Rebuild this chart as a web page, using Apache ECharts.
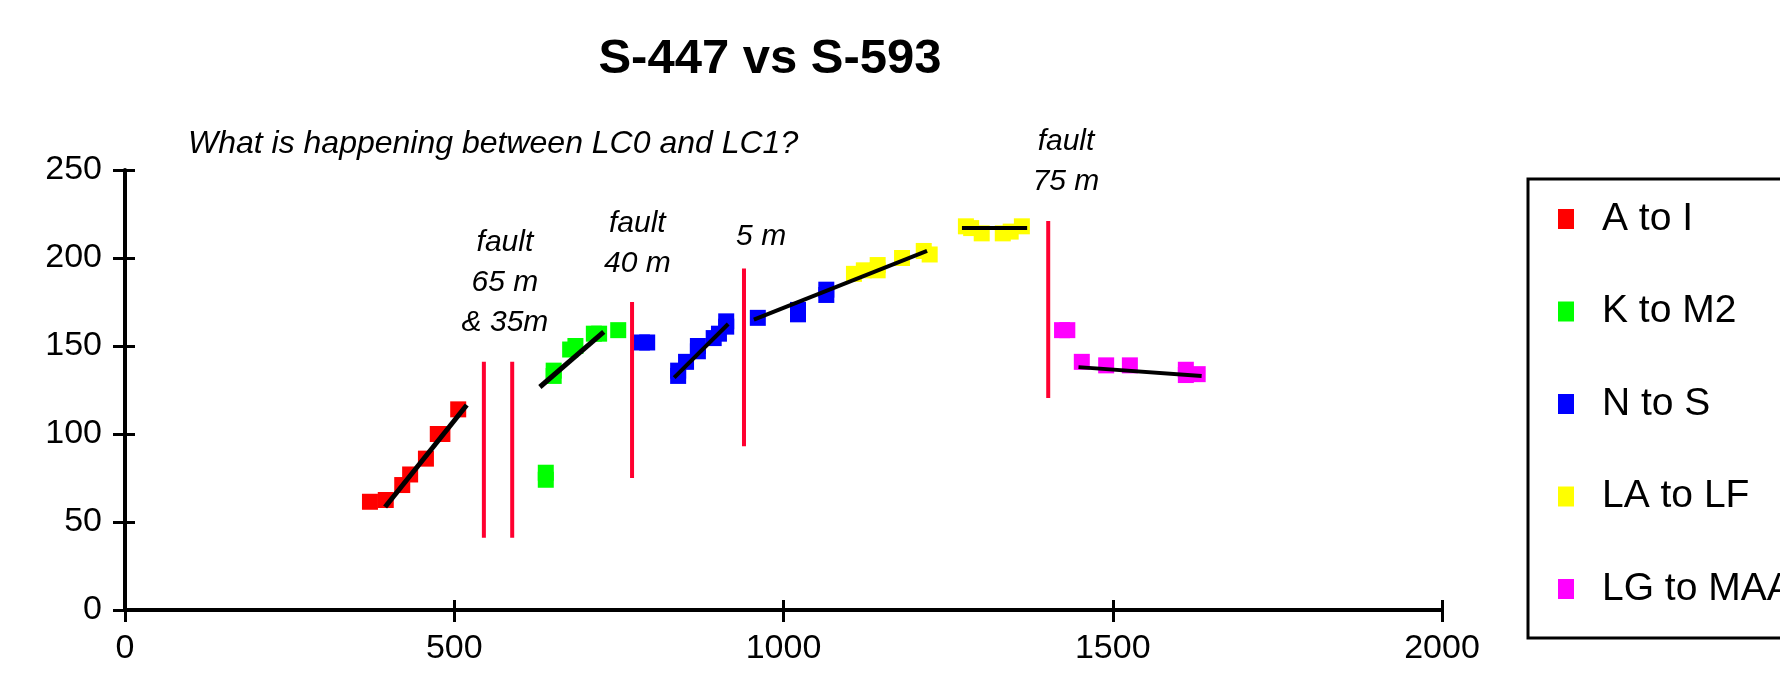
<!DOCTYPE html>
<html>
<head>
<meta charset="utf-8">
<script src="https://cdn.jsdelivr.net/npm/echarts@6/dist/echarts.min.js"></script>
<style>
html,body{margin:0;padding:0;background:#fff;}
#chart{width:1780px;height:677px;}
</style>
</head>
<body>
<div id="chart"></div>
<script>
// ---- data ----
const titleText = 'S-447 vs S-593';
const seriesNames = ['A to I', 'K to M2', 'N to S', 'LA to LF', 'LG to MAA'];
const aToI = [[372,61.5],[396,62.5],[421,71],[433,77],[457,86],[475,100],[482,100],[506,114]];
const kToM2 = [[639,74],[639,78],[651,133],[651,136],[676,148],[684,150],[712,157],[720,157],[749,159]];
const nToS = [[785,152],[793,152],[840,133],[840,136],[852,141],[870,147],[870,150],[894,154.5],[902,157],[913,161],[913,164],[961,166],[1022,168],[1022,170.5],[1065,179],[1065,182]];
const laToLf = [[1107,191],[1122,193],[1143,193],[1143,196],[1180,200],[1213,204],[1222,202],[1277,218],[1285,217],[1301,214],[1333,214],[1345,215],[1362,218]];
const lgToMaa = [[1423,159],[1431,159],[1453,141],[1490,139],[1526,139],[1611,133.5],[1611,136.5],[1629,134]];

const trendAtoI = [[395,58.5],[519,116.5]];
const trendKtoM2 = [[630,126.7],[727,158]];
const trendNtoS1 = [[834,132],[916,162.5]];
const trendNtoS2 = [[955,165],[1218,204]];
const trendLAtoLF = [[1271,217],[1370,217]];
const trendLGtoMAA = [[1448,138],[1635,133]];

const faultLines = [
  [[545,141],[545,41]],
  [[588,141],[588,41]],
  [[770,175],[770,75]],
  [[940,194],[940,93]],
  [[1402,221],[1402,120.5]]
];

const notes = [
  ['What is happening between LC0 and LC1?', 559, 265],
  ['fault\n65 m\n& 35m', 577, 186],
  ['fault\n40 m', 778, 208],
  ['5 m', 966, 212],
  ['fault\n75 m', 1429, 255]
];
const noteSizes = [32, 30, 30, 30, 30];

const xMin = 0, xMax = 2000, xStep = 500;
const yMin = 0, yMax = 250, yStep = 50;

// ---- styles ----
const FONT = "'Liberation Sans', Arial, Helvetica, sans-serif";
const colors = ['#ff0000', '#00ff00', '#0000ff', '#ffff00', '#ff00ff'];
const groups = [aToI, kToM2, nToS, laToLf, lgToMaa];
const trends = [
  [trendAtoI, 5], [trendKtoM2, 5], [trendNtoS1, 4], [trendNtoS2, 4], [trendLAtoLF, 4], [trendLGtoMAA, 4]
];

const series = [];
groups.forEach((g, i) => {
  series.push({
    name: seriesNames[i], type: 'scatter', symbol: 'rect', symbolSize: [16, 16],
    itemStyle: { color: colors[i], opacity: 1 }, data: g, silent: true, z: 2
  });
});
trends.forEach(([t, w]) => {
  series.push({
    type: 'line', data: t, symbol: 'none', silent: true, z: 3,
    lineStyle: { color: '#000', width: w, cap: 'butt' }
  });
});
faultLines.forEach(f => {
  series.push({
    type: 'line', data: f, symbol: 'none', silent: true, z: 3,
    lineStyle: { color: '#ff0030', width: 4, cap: 'butt' }
  });
});

const chart = echarts.init(document.getElementById('chart'));
chart.setOption({
  animation: false,
  backgroundColor: '#fff',
  grid: { left: 125, right: 338, top: 170, bottom: 67, containLabel: false },
  legend: {
    data: seriesNames, orient: 'vertical', left: 1528, top: 179,
    icon: 'rect', itemWidth: 16, itemHeight: 20, itemGap: 52.5,
    padding: [20, 40, 29, 30],
    borderColor: '#000', borderWidth: 3, backgroundColor: '#fff',
    selectedMode: false,
    textStyle: { color: '#000', fontFamily: FONT, fontSize: 39, lineHeight: 40, padding: [0, 0, 0, 23] }
  },
  xAxis: [{
    type: 'value', min: xMin, max: xMax, interval: xStep, position: 'bottom',
    splitLine: { show: false },
    axisLine: { show: true, onZero: false, lineStyle: { color: '#000', width: 4 } },
    axisTick: { show: true, length: 12, lineStyle: { color: '#000', width: 3 } },
    axisLabel: { color: '#000', fontFamily: FONT, fontSize: 34, margin: 22, formatter: v => String(v) }
  }, {
    type: 'value', min: xMin, max: xMax, interval: xStep, position: 'bottom',
    splitLine: { show: false },
    axisLine: { show: false, onZero: false },
    axisTick: { show: true, inside: true, length: 10, lineStyle: { color: '#000', width: 3 } },
    axisLabel: { show: false }
  }],
  yAxis: [{
    type: 'value', min: yMin, max: yMax, interval: yStep, position: 'left',
    splitLine: { show: false },
    axisLine: { show: true, onZero: false, lineStyle: { color: '#000', width: 4 } },
    axisTick: { show: true, length: 12, lineStyle: { color: '#000', width: 3 } },
    axisLabel: { color: '#000', fontFamily: FONT, fontSize: 34, margin: 23, padding: [0, 0, 14, 0], formatter: v => String(v) }
  }, {
    type: 'value', min: yMin, max: yMax, interval: yStep, position: 'left',
    splitLine: { show: false },
    axisLine: { show: false, onZero: false },
    axisTick: { show: true, inside: true, length: 10, lineStyle: { color: '#000', width: 3 } },
    axisLabel: { show: false }
  }],
  series: series
});

// title + annotations placed through the chart's own coordinate conversion
const graphics = [{
  type: 'text', x: 770, y: 59, z: 10,
  style: { text: titleText, fill: '#000', font: "bold 49px " + FONT, textAlign: 'center', textVerticalAlign: 'middle' }
}];
notes.forEach((n, i) => {
  const p = chart.convertToPixel({ gridIndex: 0 }, [n[1], n[2]]);
  graphics.push({
    type: 'text', x: p[0], y: p[1], z: 10,
    style: {
      text: n[0], fill: '#000', fontFamily: FONT, fontStyle: 'italic',
      fontSize: noteSizes[i], lineHeight: 40,
      align: 'center', verticalAlign: 'middle'
    }
  });
});
chart.setOption({ graphic: graphics });
</script>
</body>
</html>
